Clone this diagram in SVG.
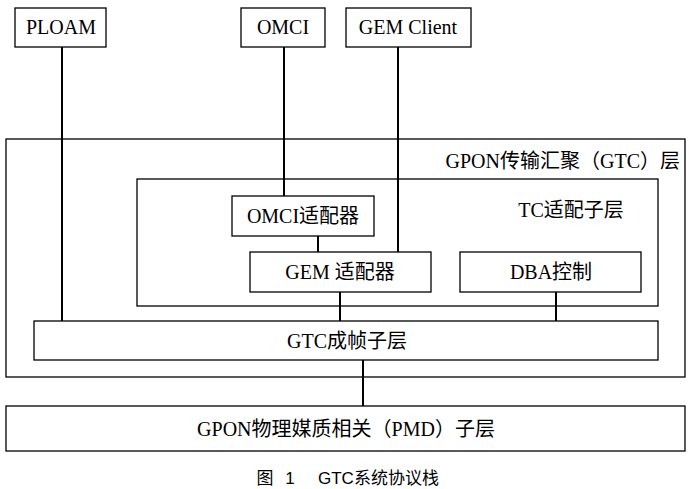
<svg xmlns="http://www.w3.org/2000/svg" width="689" height="489" viewBox="0 0 689 489">
<style>
rect{fill:#fff;stroke:#000;stroke-width:1.3}
.t{font-family:"Liberation Serif","Noto Sans CJK SC",serif;font-size:20px;fill:#000;text-anchor:middle}
.c{font-family:"Liberation Sans","Noto Sans CJK SC",sans-serif;font-size:17px;fill:#000;text-anchor:middle}
#connectors line{stroke:#000;stroke-width:2}
</style>
<g id="gtc-layer"><rect x="6" y="139" width="679" height="238"/><text class="t" x="680" y="168" style="text-anchor:end">GPON传输汇聚（GTC）层</text></g>
<g id="tc-adapt"><rect x="137" y="179" width="521" height="127"/><text class="t" x="571" y="217">TC适配子层</text></g>
<g id="ploam"><rect x="15" y="8" width="91" height="39"/><text class="t" x="61" y="34">PLOAM</text></g>
<g id="omci"><rect x="241" y="8" width="84" height="39"/><text class="t" x="283" y="34">OMCI</text></g>
<g id="gemclient"><rect x="346" y="8" width="125" height="39"/><text class="t" x="408" y="34">GEM Client</text></g>
<g id="omci-adapter"><rect x="232" y="196" width="142" height="40"/><text class="t" x="303" y="223">OMCI适配器</text></g>
<g id="gem-adapter"><rect x="250" y="252" width="181" height="40"/><text class="t" x="340" y="279">GEM 适配器</text></g>
<g id="dba"><rect x="460" y="252" width="181" height="40"/><text class="t" x="551" y="279">DBA控制</text></g>
<g id="framing"><rect x="34" y="321" width="624" height="39"/><text class="t" x="347" y="348">GTC成帧子层</text></g>
<g id="pmd"><rect x="6" y="406" width="679" height="45"/><text class="t" x="346" y="436">GPON物理媒质相关（PMD）子层</text></g>
<g id="connectors">
<line x1="62" y1="47" x2="62" y2="321"/>
<line x1="284" y1="47" x2="284" y2="196"/>
<line x1="398" y1="47" x2="398" y2="252"/>
<line x1="318" y1="236" x2="318" y2="252"/>
<line x1="340" y1="292" x2="340" y2="321"/>
<line x1="556" y1="292" x2="556" y2="321"/>
<line x1="363" y1="360" x2="363" y2="406"/>
</g>
<text class="c" y="484"><tspan x="265">图</tspan><tspan x="290">1</tspan><tspan x="318" style="text-anchor:start">GTC系统协议栈</tspan></text>
</svg>
